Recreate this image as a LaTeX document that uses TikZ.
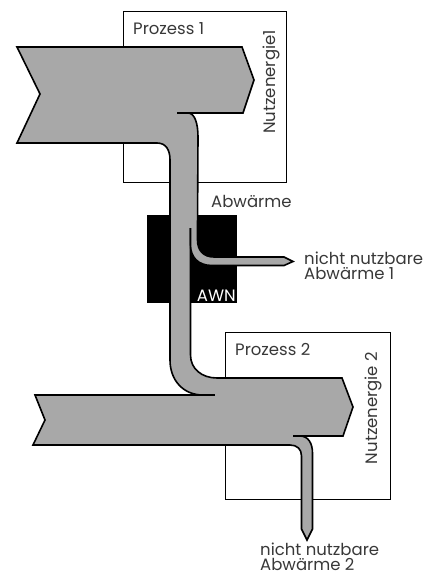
\documentclass[tikz,border=0pt]{standalone}
\usepackage{fontspec}
\setmainfont{Poppins}
\begin{document}
\begin{tikzpicture}[x=1pt,y=-1pt,
  flow/.style={fill=flowgray,draw=black,line width=1.6pt,line join=miter},
  edge/.style={draw=black,line width=1.6pt},
  procbox/.style={draw=black,line width=0.8pt,fill=white},
  lbl/.style={inner sep=0pt,font=\fontsize{16.5}{15}\selectfont,text=black!78},
]
\definecolor{flowgray}{RGB}{168,168,168}
\useasboundingbox (0,0) rectangle (430,578);
% process boxes
\draw[procbox] (123,11) rectangle (286,182);
\draw[procbox] (225,332) rectangle (390,499);
% AWN box
\fill[black] (147,215) rectangle (237,303);
% main flow
\path[flow] (17,47) -- (242,47) -- (254,80) -- (243,113) -- (188,113)
  .. controls (195,113) and (198,124) .. (198,137)
  -- (197.5,229) -- (190.5,229) -- (190.5,355)
  .. controls (190.5,369) and (202,378) .. (217,378)
  -- (342,378) -- (353,407) -- (343,436) -- (300,436)
  .. controls (308,436) and (312.5,443) .. (312.5,453)
  -- (312.5,529) -- (307,540) -- (301.5,529) -- (301.5,456)
  .. controls (301.5,449) and (297,445) .. (290,445)
  -- (33,445) -- (45,420) -- (35,395) -- (203,395)
  .. controls (183,395) and (170,380) .. (170,360)
  -- (170,160) .. controls (170,150) and (166,143) .. (157,143)
  -- (17,143) -- (40,94) -- cycle;
% small overshoot lines
\draw[edge] (177,113) -- (188,113);
\draw[edge] (203,395) -- (215,395);
\draw[edge] (293,436) -- (300,436);
% branch 1 (nicht nutzbare Abwaerme 1)
\fill[flowgray] (190.5,224) -- (190.5,245)
  .. controls (190.5,257) and (198,265.5) .. (212,265.5)
  -- (284,265.5) -- (293,261.5) -- (284,257) -- (214,257)
  .. controls (203,257) and (197.5,250) .. (197.5,240)
  -- (197.5,224) -- cycle;
\draw[edge,line join=miter] (190.5,228) -- (190.5,245)
  .. controls (190.5,257) and (198,265.5) .. (212,265.5)
  -- (284,265.5) -- (293,261.5) -- (284,257) -- (214,257)
  .. controls (203,257) and (197.5,250) .. (197.5,240)
  -- (197.5,224);
% texts
\node[lbl,anchor=base west] (t1) at (133,34.5) {Prozess 1};
\node[lbl,anchor=base west] (t2) at (235,355.5) {Prozess 2};
\node[lbl,rotate=90,anchor=base] (n1) at (275.5,82) {Nutzenergie1};
\node[lbl,rotate=90,anchor=base] (n2) at (377.5,408) {Nutzenergie 2};
\node[lbl,anchor=base west] (abw) at (211,207.5) {Abwärme};
\node[lbl,anchor=base east,text=white] (awn) at (236,301.5) {AWN};
\node[lbl,anchor=south west,align=left] (nn1) at (304,280) {nicht nutzbare\\Abwärme 1};
\node[lbl,anchor=south west,align=left] (nn2) at (260,571) {nicht nutzbare\\Abwärme 2};
\end{tikzpicture}
\end{document}
